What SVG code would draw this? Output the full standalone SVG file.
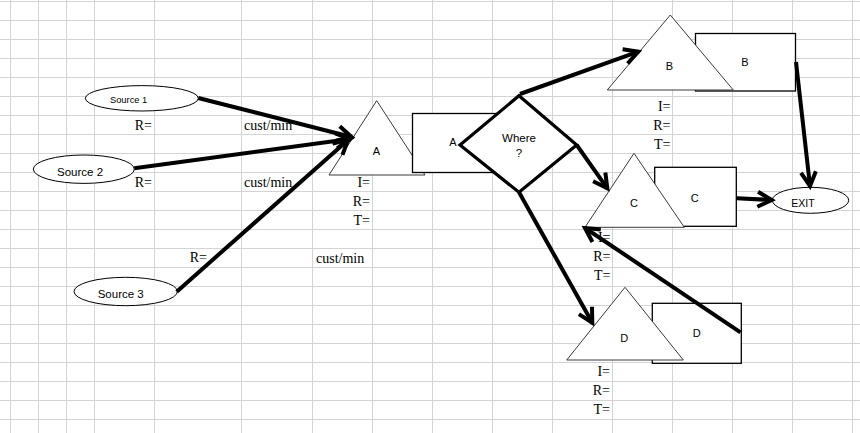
<svg xmlns="http://www.w3.org/2000/svg" width="860" height="433" viewBox="0 0 860 433">
<style>
.grid line{stroke:#d4d4d4;stroke-width:1}
.cell{font-family:"Liberation Serif","Times New Roman",serif;font-size:14px;fill:#000}
.lbl{font-family:"Liberation Sans",Arial,sans-serif;font-size:11px;fill:#000}
.tri{fill:#fff;stroke:#3a3a3a;stroke-width:1}
.box{fill:#fff;stroke:#000;stroke-width:1.3}
.ell{fill:#fff;stroke:#000;stroke-width:1}
.dia{fill:#fff;stroke:#000;stroke-width:3.2;stroke-linejoin:miter}
.con line{stroke:#000;stroke-width:4;marker-end:url(#arr)}
</style>
<defs>
<marker id="arr" viewBox="-18 -10 22 20" refX="0" refY="0" markerWidth="22" markerHeight="20" markerUnits="userSpaceOnUse" orient="auto">
<path d="M-14,-7.5 L0,0 L-14,7.5" fill="none" stroke="#000" stroke-width="4" stroke-linejoin="miter"/>
</marker>
</defs>
<rect width="860" height="433" fill="#fff"/>
<g class="grid">
<line x1="10.5" y1="0" x2="10.5" y2="433"/><line x1="38.5" y1="0" x2="38.5" y2="433"/><line x1="66.5" y1="0" x2="66.5" y2="433"/><line x1="94.5" y1="0" x2="94.5" y2="433"/><line x1="154.5" y1="0" x2="154.5" y2="433"/><line x1="241.5" y1="0" x2="241.5" y2="433"/><line x1="312.5" y1="0" x2="312.5" y2="433"/><line x1="372.5" y1="0" x2="372.5" y2="433"/><line x1="432.5" y1="0" x2="432.5" y2="433"/><line x1="492.5" y1="0" x2="492.5" y2="433"/><line x1="552.5" y1="0" x2="552.5" y2="433"/><line x1="612.5" y1="0" x2="612.5" y2="433"/><line x1="672.5" y1="0" x2="672.5" y2="433"/><line x1="732.5" y1="0" x2="732.5" y2="433"/><line x1="792.5" y1="0" x2="792.5" y2="433"/><line x1="852.5" y1="0" x2="852.5" y2="433"/>
<line x1="0" y1="1.5" x2="860" y2="1.5"/><line x1="0" y1="20.5" x2="860" y2="20.5"/><line x1="0" y1="39.5" x2="860" y2="39.5"/><line x1="0" y1="58.5" x2="860" y2="58.5"/><line x1="0" y1="77.5" x2="860" y2="77.5"/><line x1="0" y1="96.5" x2="860" y2="96.5"/><line x1="0" y1="115.5" x2="860" y2="115.5"/><line x1="0" y1="134.5" x2="860" y2="134.5"/><line x1="0" y1="153.5" x2="860" y2="153.5"/><line x1="0" y1="172.5" x2="860" y2="172.5"/><line x1="0" y1="191.5" x2="860" y2="191.5"/><line x1="0" y1="210.5" x2="860" y2="210.5"/><line x1="0" y1="229.5" x2="860" y2="229.5"/><line x1="0" y1="248.5" x2="860" y2="248.5"/><line x1="0" y1="267.5" x2="860" y2="267.5"/><line x1="0" y1="286.5" x2="860" y2="286.5"/><line x1="0" y1="305.5" x2="860" y2="305.5"/><line x1="0" y1="324.5" x2="860" y2="324.5"/><line x1="0" y1="343.5" x2="860" y2="343.5"/><line x1="0" y1="362.5" x2="860" y2="362.5"/><line x1="0" y1="381.5" x2="860" y2="381.5"/><line x1="0" y1="400.5" x2="860" y2="400.5"/><line x1="0" y1="419.5" x2="860" y2="419.5"/>
</g>
<g id="cell-labels" class="cell">
<text x="152" y="130" text-anchor="end">R=</text>
<text x="244" y="130">cust/min</text>
<text x="152" y="186.7" text-anchor="end">R=</text>
<text x="244" y="186.7">cust/min</text>
<text x="207" y="261.7" text-anchor="end">R=</text>
<text x="316" y="262.5">cust/min</text>
<text x="370" y="186.5" text-anchor="end">I=</text>
<text x="370" y="205.5" text-anchor="end">R=</text>
<text x="370" y="224.5" text-anchor="end">T=</text>
<text x="670.5" y="111" text-anchor="end">I=</text>
<text x="670.5" y="130" text-anchor="end">R=</text>
<text x="670.5" y="149" text-anchor="end">T=</text>
<text x="610.5" y="241.7" text-anchor="end">I=</text>
<text x="610.5" y="260.7" text-anchor="end">R=</text>
<text x="610.5" y="279.7" text-anchor="end">T=</text>
<text x="610" y="376" text-anchor="end">I=</text>
<text x="610" y="395" text-anchor="end">R=</text>
<text x="610" y="414" text-anchor="end">T=</text>
</g>
<g id="source1"><ellipse class="ell" cx="141.8" cy="98.3" rx="56.5" ry="12.7"/><text class="lbl" x="110" y="102.7" style="font-size:9.3px">Source 1</text></g>
<g id="source2"><ellipse class="ell" cx="83.8" cy="169.2" rx="50.5" ry="14.2"/><text class="lbl" x="57" y="175.5" style="font-size:11.5px">Source 2</text></g>
<g id="source3"><ellipse class="ell" cx="125.7" cy="291.5" rx="51.7" ry="14.2"/><text class="lbl" x="97.7" y="297.7" style="font-size:11.5px">Source 3</text></g>
<g id="station-a">
<polygon class="tri" points="376.7,100.7 329,175 425,175"/>
<text class="lbl" x="376.5" y="155" text-anchor="middle">A</text>
<rect class="box" x="412.5" y="113.5" width="100" height="59"/>
<text class="lbl" x="453" y="146" text-anchor="middle">A</text>
</g>
<g id="decision">
<polygon class="dia" points="519,95.7 576.7,145 519,192.3 460,145"/>
<text class="lbl" x="519" y="141.5" text-anchor="middle" style="font-size:11.5px">Where</text>
<text class="lbl" x="519" y="156.7" text-anchor="middle" style="font-size:11.5px">?</text>
</g>
<g id="station-b">
<rect class="box" x="695.5" y="33.5" width="100" height="57.5"/>
<text class="lbl" x="745" y="66" text-anchor="middle">B</text>
<polygon class="tri" points="670.3,15 607.3,90 733.3,90"/>
<text class="lbl" x="669.3" y="70" text-anchor="middle">B</text>
</g>
<g id="station-c">
<rect class="box" x="654.7" y="167.3" width="81.6" height="59"/>
<text class="lbl" x="694.7" y="201.5" text-anchor="middle">C</text>
<polygon class="tri" points="634,153.3 585,227.3 684.3,227.3"/>
<text class="lbl" x="634" y="207" text-anchor="middle">C</text>
</g>
<g id="station-d">
<rect class="box" x="652.3" y="303.3" width="89" height="60"/>
<text class="lbl" x="696.7" y="336.5" text-anchor="middle">D</text>
<polygon class="tri" points="625,287.3 566.7,360 683.3,360"/>
<text class="lbl" x="624.3" y="341.5" text-anchor="middle">D</text>
</g>
<g id="exit"><ellipse class="ell" cx="810.5" cy="200.3" rx="38.2" ry="13"/><text class="lbl" x="803" y="207" text-anchor="middle" style="font-size:10.5px">EXIT</text></g>
<g id="connectors" class="con">
<line x1="198.3" y1="98" x2="351.5" y2="137"/>
<line x1="134.3" y1="168.3" x2="350" y2="139"/>
<line x1="176.7" y1="291.7" x2="348" y2="140"/>
<line x1="520" y1="94" x2="638.3" y2="51.7"/>
<line x1="576.7" y1="145" x2="607.3" y2="188.3"/>
<line x1="519" y1="192.3" x2="592.3" y2="322.7"/>
<line x1="796" y1="62" x2="810" y2="186"/>
<line x1="736.7" y1="198.3" x2="771.7" y2="200"/>
<line x1="740.5" y1="332.3" x2="585" y2="228"/>
</g>
</svg>
